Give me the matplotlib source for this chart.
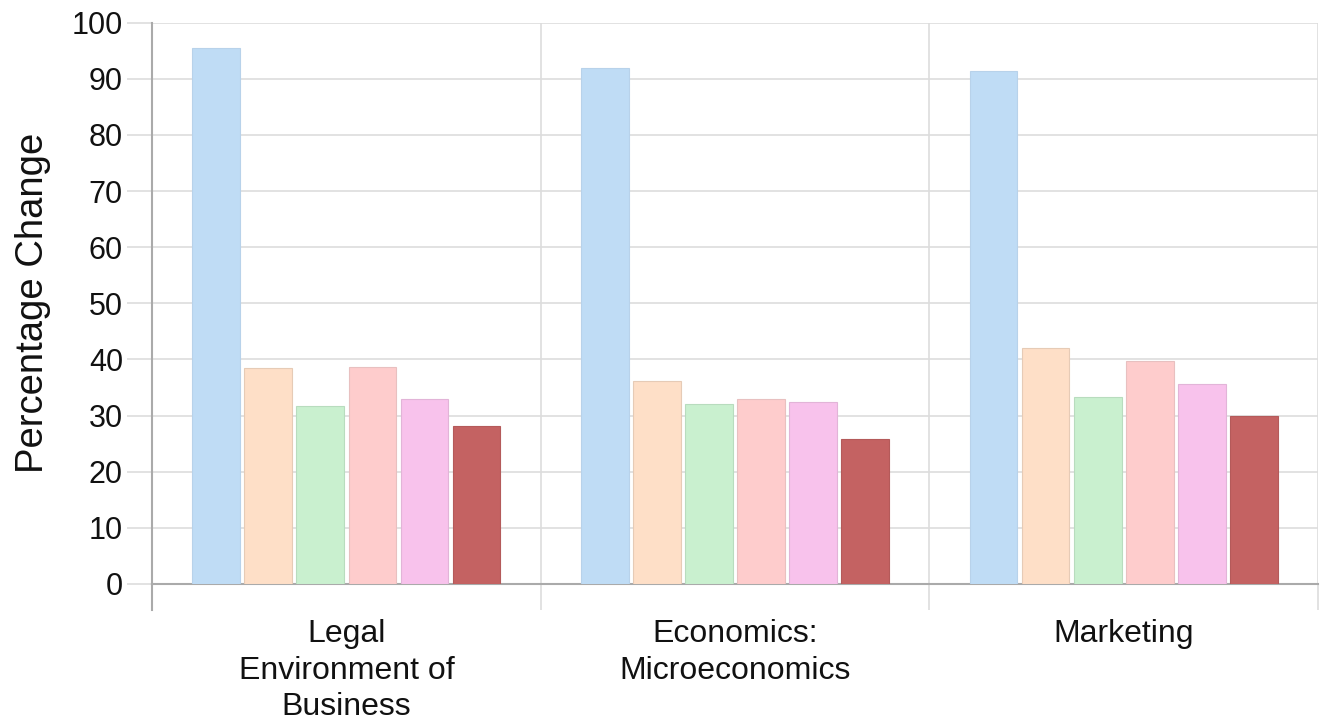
import matplotlib.pyplot as plt
import numpy as np

plt.rcParams['font.family'] = ['Liberation Sans', 'DejaVu Sans']

categories = ['Legal\nEnvironment of\nBusiness', 'Economics:\nMicroeconomics', 'Marketing']
series = [
  [95.5, 91.9, 91.4],
  [38.5, 36.2, 42.0],
  [31.7, 32.0, 33.3],
  [38.7, 33.0, 39.7],
  [33.0, 32.5, 35.6],
  [28.1, 25.8, 29.9],
]
colors = ['#bfdcf5', '#fedfc7', '#c9f0cf', '#fecccc', '#f8c2ec', '#c46262']
edges = ['#b8d2ea', '#e6cbb6', '#b8dcbe', '#e8c0c0', '#e2b4d8', '#b45a5a']

fig = plt.figure(figsize=(13.2, 7.23), dpi=100)
ax = fig.add_axes([0.1152, 0.1923, 0.8833, 0.7763])

x = np.arange(len(categories))
step = 0.134
width = 0.123
for i, vals in enumerate(series):
  ax.bar(x + (i - 2.5) * step, vals, width, color=colors[i],
         edgecolor=edges[i], linewidth=0.8, zorder=3)

ax.set_xlim(-0.5, 2.5)
ax.set_ylim(0, 100)
ax.set_yticks(np.arange(0, 101, 10))
ax.set_xticks([-0.5, 0.5, 1.5, 2.5])
ax.set_xticklabels([])
ax.set_xticks(x, minor=True)
ax.set_xticklabels(categories, minor=True, fontsize=23, linespacing=1.3, color='#111111')
ax.tick_params(axis='x', which='minor', length=0, pad=25)
ax.tick_params(axis='x', which='major', length=19, width=1.2, color='#dddddd')
ax.tick_params(axis='y', length=18, width=1.2, color='#dddddd', pad=3, labelsize=22,
               labelcolor='#111111')

ax.grid(True, which='major', color='#dddddd', linewidth=1.2, zorder=0)
ax.set_axisbelow(True)
for s in ['top', 'right']:
  ax.spines[s].set_visible(False)
ax.spines['left'].set_color('#aaaaaa')
ax.spines['left'].set_linewidth(1.5)
ax.spines['left'].set_bounds(0, 100)
ax.spines['bottom'].set_color('#aaaaaa')
ax.spines['bottom'].set_linewidth(1.5)
ax.plot([-0.5, -0.5], [0, -4.6], color='#aaaaaa', linewidth=1.5, clip_on=False, zorder=4)

ax.set_ylabel('Percentage Change', fontsize=27.5, color='#111111', labelpad=15)

fig.savefig('out.png', dpi=100)
